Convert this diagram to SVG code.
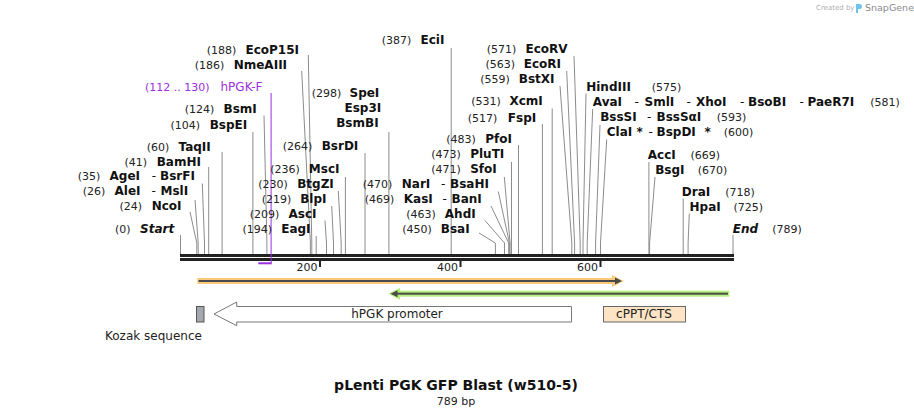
<svg xmlns="http://www.w3.org/2000/svg" width="914" height="417" viewBox="0 0 914 417">
<style>
text{font-family:"DejaVu Sans","Noto Sans",sans-serif;fill:#111}
.n{font-size:11px;fill:#222}
.b{font-size:12px;font-weight:bold}
.h{font-weight:normal}
.i{font-style:italic}
.f{font-size:12px;fill:#222}
text.p{fill:#9b30e0}
.ld{stroke:#8c8c8c;stroke-width:1;fill:none}
</style>
<rect width="914" height="417" fill="#fff"/>
<g id="logo">
<text x="816" y="10" style="font-size:7px;fill:#b0b0b0">Created by</text>
<path d="M856,4 h3.5 a2.5,2.5 0 0 1 0,5 h-1.5 v4 h-2z" fill="#6cc3ee"/>
<text x="865" y="11" style="font-size:9.5px;fill:#8a8a8a">SnapGene</text>
</g>
<g id="connectors">
<polyline class="ld" points="180.5,235 180.5,254"/>
<polyline class="ld" points="190,212 196.8,243 196.8,254"/>
<polyline class="ld" points="195,200 198.2,243 198.2,254"/>
<polyline class="ld" points="202.3,183.5 204.5,243 204.5,254"/>
<polyline class="ld" points="208.7,167 208.7,254"/>
<polyline class="ld" points="222.1,152 222.1,254"/>
<polyline class="ld" points="252.9,132 252.9,254"/>
<polyline class="ld" points="264,115.5 266.9,243 266.9,254"/>
<polyline class="ld" points="301.7,71 310.4,243 310.4,254"/>
<polyline class="ld" points="308.3,55 311.8,243 311.8,254"/>
<polyline class="ld" points="316.2,236 316.2,254"/>
<polyline class="ld" points="325,220.5 326.5,243 326.5,254"/>
<polyline class="ld" points="331.7,206 333.5,243 333.5,254"/>
<polyline class="ld" points="338.3,191 341.2,243 341.2,254"/>
<polyline class="ld" points="345.4,177 345.4,254"/>
<polyline class="ld" points="365,153 365,254"/>
<polyline class="ld" points="388.9,132 388.9,254"/>
<polyline class="ld" points="451.2,48 451.2,254"/>
<polyline class="ld" points="479,233 495.4,243 495.4,254"/>
<polyline class="ld" points="485,220.5 504.5,243 504.5,254"/>
<polyline class="ld" points="491,206 508.7,243 508.7,254"/>
<polyline class="ld" points="498.3,191.5 509.4,243 509.4,254"/>
<polyline class="ld" points="504.3,177 510.1,243 510.1,254"/>
<polyline class="ld" points="511.5,162 511.5,254"/>
<polyline class="ld" points="518.5,145 518.5,254"/>
<polyline class="ld" points="542.4,124 542.4,254"/>
<polyline class="ld" points="552.2,108.5 552.2,254"/>
<polyline class="ld" points="560,86 571.8,243 571.8,254"/>
<polyline class="ld" points="566.7,71 574.6,243 574.6,254"/>
<polyline class="ld" points="574,56 580.2,243 580.2,254"/>
<polyline class="ld" points="586,93.5 583,243 583,254"/>
<polyline class="ld" points="592.7,109 587.2,243 587.2,254"/>
<polyline class="ld" points="600,125 595.6,243 595.6,254"/>
<polyline class="ld" points="606.7,139.5 600.5,243 600.5,254"/>
<polyline class="ld" points="648.9,162 648.9,254"/>
<polyline class="ld" points="655,177 649.6,243 649.6,254"/>
<polyline class="ld" points="683.2,198.5 683.2,254"/>
<polyline class="ld" points="689.3,213.5 688.1,243 688.1,254"/>
<polyline class="ld" points="733,235 733,254"/>
</g>
<g id="backbone">
<rect x="180" y="254" width="554" height="3" fill="#222"/>
<rect x="180" y="258" width="554" height="3" fill="#222"/>
<rect x="319" y="261" width="2" height="6" fill="#222"/>
<rect x="459.5" y="261" width="2" height="6" fill="#222"/>
<rect x="599.5" y="261" width="2" height="6" fill="#222"/>
<text class="n" x="317.5" y="271" text-anchor="end">200</text>
<text class="n" x="458" y="271" text-anchor="end">400</text>
<text class="n" x="598" y="271" text-anchor="end">600</text>
</g>
<g id="primer-hPGK-F">
<line x1="271.1" y1="93" x2="271.1" y2="263" stroke="#9b30e0" stroke-width="1"/>
<line x1="258.3" y1="263.3" x2="271.7" y2="263.3" stroke="#9b30e0" stroke-width="2"/>
<text class="n p" x="145" y="91">(112 .. 130)</text>
<text class="f p" x="220.5" y="91">hPGK-F</text>
</g>
<g id="site-start"><text class="n" x="115" y="233">(0)</text><text class="b i" x="140" y="233">Start</text></g>
<g id="site-NcoI"><text class="n" x="119.5" y="210">(24)</text><text class="b" x="151.7" y="210">NcoI</text></g>
<g id="site-AleI"><text class="n" x="82.7" y="195">(26)</text><text class="b" y="195"><tspan x="114.5">AleI</tspan><tspan class="h" x="151.5">-</tspan><tspan x="160.5">MslI</tspan></text></g>
<g id="site-AgeI"><text class="n" x="77.7" y="180">(35)</text><text class="b" y="180"><tspan x="109.5">AgeI</tspan><tspan class="h" x="151.8">-</tspan><tspan x="160">BsrFI</tspan></text></g>
<g id="site-BamHI"><text class="n" x="124.5" y="165.5">(41)</text><text class="b" x="156.7" y="165.5">BamHI</text></g>
<g id="site-TaqII"><text class="n" x="146.7" y="150.5">(60)</text><text class="b" x="178.5" y="150.5">TaqII</text></g>
<g id="site-BspEI"><text class="n" x="170.5" y="128.5">(104)</text><text class="b" x="209.7" y="128.5">BspEI</text></g>
<g id="site-BsmI"><text class="n" x="184.7" y="113">(124)</text><text class="b" x="223.5" y="113">BsmI</text></g>
<g id="site-NmeAIII"><text class="n" x="194.7" y="69">(186)</text><text class="b" x="233.7" y="69">NmeAIII</text></g>
<g id="site-EcoP15I"><text class="n" x="206.7" y="54">(188)</text><text class="b" x="245.5" y="54">EcoP15I</text></g>
<g id="site-EagI"><text class="n" x="242.5" y="233">(194)</text><text class="b" x="281.2" y="233">EagI</text></g>
<g id="site-AscI"><text class="n" x="249.7" y="218">(209)</text><text class="b" x="288.5" y="218">AscI</text></g>
<g id="site-BlpI"><text class="n" x="261.7" y="203">(219)</text><text class="b" x="300.2" y="203">BlpI</text></g>
<g id="site-BtgZI"><text class="n" x="258.2" y="188">(230)</text><text class="b" x="297.2" y="188">BtgZI</text></g>
<g id="site-MscI"><text class="n" x="270.2" y="172.7">(236)</text><text class="b" x="308.8" y="172.7">MscI</text></g>
<g id="site-BsrDI"><text class="n" x="282.7" y="150">(264)</text><text class="b" x="321.7" y="150">BsrDI</text></g>
<g id="site-SpeI"><text class="n" x="311.7" y="96.7">(298)</text><text class="b" x="349.5" y="96.7">SpeI</text><text class="b" x="344.5" y="111.7">Esp3I</text><text class="b" x="336.2" y="126.7">BsmBI</text></g>
<g id="site-EciI"><text class="n" x="381.7" y="43.5">(387)</text><text class="b" x="420.5" y="43.5">EciI</text></g>
<g id="site-BsaI"><text class="n" x="402.2" y="233">(450)</text><text class="b" x="440.8" y="233">BsaI</text></g>
<g id="site-AhdI"><text class="n" x="406.2" y="218">(463)</text><text class="b" x="444.8" y="218">AhdI</text></g>
<g id="site-KasI"><text class="n" x="364.7" y="203">(469)</text><text class="b" y="203"><tspan x="403.8">KasI</tspan><tspan class="h" x="442.5">-</tspan><tspan x="451.5">BanI</tspan></text></g>
<g id="site-NarI"><text class="n" x="362.7" y="188">(470)</text><text class="b" y="188"><tspan x="401.8">NarI</tspan><tspan class="h" x="441">-</tspan><tspan x="450">BsaHI</tspan></text></g>
<g id="site-SfoI"><text class="n" x="431.2" y="173">(471)</text><text class="b" x="470.2" y="173">SfoI</text></g>
<g id="site-PluTI"><text class="n" x="431.2" y="158">(473)</text><text class="b" x="470.2" y="158">PluTI</text></g>
<g id="site-PfoI"><text class="n" x="446.2" y="143">(483)</text><text class="b" x="485.2" y="143">PfoI</text></g>
<g id="site-FspI"><text class="n" x="467.7" y="121.5">(517)</text><text class="b" x="507.8" y="121.5">FspI</text></g>
<g id="site-XcmI"><text class="n" x="471.2" y="105">(531)</text><text class="b" x="509.5" y="105">XcmI</text></g>
<g id="site-BstXI"><text class="n" x="480.2" y="83.3">(559)</text><text class="b" x="518.8" y="83.3">BstXI</text></g>
<g id="site-EcoRI"><text class="n" x="485.5" y="67.7">(563)</text><text class="b" x="523.8" y="67.7">EcoRI</text></g>
<g id="site-EcoRV"><text class="n" x="486.8" y="53.3">(571)</text><text class="b" x="525.5" y="53.3">EcoRV</text></g>
<g id="site-HindIII"><text class="b" x="586.2" y="91">HindIII</text><text class="n" x="651.7" y="91">(575)</text></g>
<g id="site-AvaI"><text class="b" y="106"><tspan x="592.8">AvaI</tspan><tspan class="h" x="634.5">-</tspan><tspan x="644.5">SmlI</tspan><tspan class="h" x="686.5">-</tspan><tspan x="696">XhoI</tspan><tspan class="h" x="740">-</tspan><tspan x="748">BsoBI</tspan><tspan class="h" x="799.5">-</tspan><tspan x="807.5">PaeR7I</tspan></text><text class="n" x="870.2" y="106">(581)</text></g>
<g id="site-BssSI"><text class="b" y="121"><tspan x="600.2">BssSI</tspan><tspan class="h" x="647">-</tspan><tspan x="656.5">BssSαI</tspan></text><text class="n" x="716.8" y="121">(593)</text></g>
<g id="site-ClaI"><text class="b" y="136"><tspan x="606.8">ClaI</tspan><tspan x="636.5">*</tspan><tspan class="h" x="648.5">-</tspan><tspan x="656.5">BspDI</tspan><tspan x="704.5">*</tspan></text><text class="n" x="723.8" y="136">(600)</text></g>
<g id="site-AccI"><text class="b" x="647.8" y="159">AccI</text><text class="n" x="690.5" y="159">(669)</text></g>
<g id="site-BsgI"><text class="b" x="655.2" y="174">BsgI</text><text class="n" x="697.8" y="174">(670)</text></g>
<g id="site-DraI"><text class="b" x="681.8" y="196">DraI</text><text class="n" x="725.2" y="196">(718)</text></g>
<g id="site-HpaI"><text class="b" x="689.5" y="211">HpaI</text><text class="n" x="733.5" y="211">(725)</text></g>
<g id="site-end"><text class="b i" x="732.8" y="233">End</text><text class="n" x="772.2" y="233">(789)</text></g>
<g id="feature-orf-fwd">
<rect x="197.3" y="278" width="420" height="6" fill="#f9c97c"/>
<polygon points="612,275 624,281 612,287" fill="#f9c97c"/>
<rect x="198.5" y="280" width="418" height="2" fill="#4a4a4a"/>
<polygon points="615,277.5 622,281 615,284.5" fill="#4a4a4a"/>
</g>
<g id="feature-orf-rev">
<rect x="394" y="290.7" width="335.3" height="6" fill="#b6f07c"/>
<polygon points="400,287.7 388.3,293.7 400,299.7" fill="#b6f07c"/>
<rect x="395" y="292.7" width="333" height="2" fill="#4a4a4a"/>
<polygon points="397.5,290.2 390.5,293.7 397.5,297.2" fill="#4a4a4a"/>
</g>
<g id="feature-kozak">
<rect x="196.5" y="306.5" width="7.5" height="15.5" fill="#a3a8ae" stroke="#555" stroke-width="1"/>
<text class="f" x="105" y="340">Kozak sequence</text>
</g>
<g id="feature-hPGK">
<polygon points="214,314 236.7,302 236.7,306.5 571.5,306.5 571.5,322 236.7,322 236.7,325.7" fill="#fff" stroke="#777" stroke-width="1"/>
<text class="f" x="397" y="318" text-anchor="middle">hPGK promoter</text>
</g>
<g id="feature-cPPT">
<rect x="603.5" y="306.5" width="82" height="15.5" fill="#fde4c4" stroke="#666" stroke-width="1"/>
<text class="f" x="644" y="318" text-anchor="middle">cPPT/CTS</text>
</g>
<g id="title">
<text x="456" y="390" text-anchor="middle" style="font-size:14px;font-weight:bold">pLenti PGK GFP Blast (w510-5)</text>
<text x="456" y="405" text-anchor="middle" style="font-size:11px;fill:#222">789 bp</text>
</g>
</svg>
